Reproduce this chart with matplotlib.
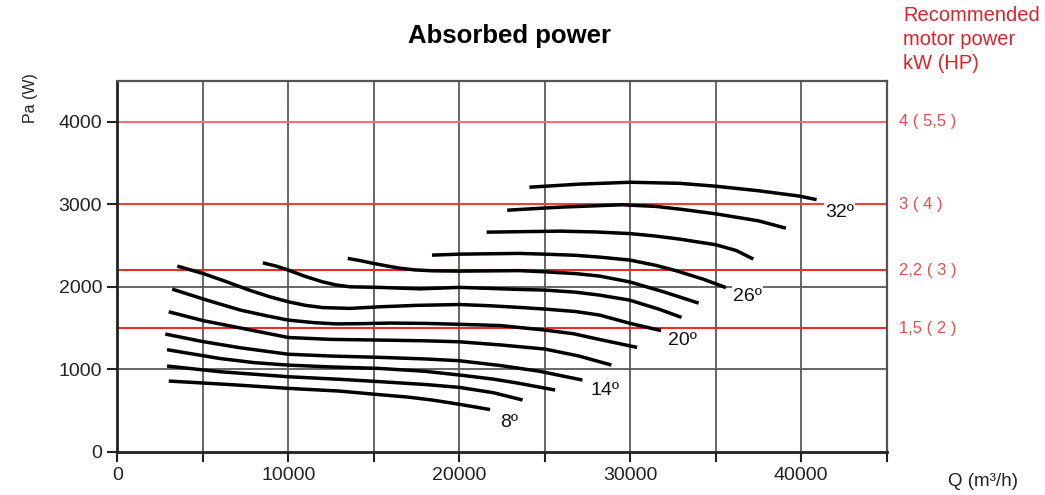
import matplotlib
matplotlib.use("Agg")
import matplotlib.pyplot as plt

plt.rcParams['font.family'] = ['Liberation Sans', 'DejaVu Sans']

# ---- data ----
angles = ["8º", "10º", "12º", "14º", "16º", "18º", "20º", "22º", "24º", "26º", "28º", "30º", "32º"]

q_8 = [3000, 6500, 10000, 13000, 15300, 17000, 18400, 20000, 21800]
p_8 = [857, 815, 768, 735, 692, 662, 627, 575, 511]

q_10 = [2900, 6000, 10000, 13000, 15300, 18000, 20000, 22000, 23700]
p_10 = [1039, 970, 909, 878, 850, 815, 780, 715, 627]

q_12 = [2900, 6000, 8000, 10000, 12500, 15300, 18000, 20000, 22000, 23500, 25600]
p_12 = [1237, 1130, 1080, 1050, 1028, 1010, 975, 930, 880, 829, 748]

q_14 = [2800, 5000, 7200, 10000, 12500, 15200, 18000, 20000, 22400, 24700, 27200]
p_14 = [1427, 1335, 1260, 1182, 1160, 1145, 1125, 1103, 1045, 975, 869]

q_16 = [3000, 5000, 7300, 10000, 12500, 15300, 18000, 20000, 22400, 25000, 27000, 28900]
p_16 = [1697, 1590, 1496, 1385, 1362, 1354, 1345, 1333, 1295, 1245, 1160, 1051]

q_18 = [3200, 5200, 7200, 8800, 10000, 11500, 12800, 14300, 15900, 18000, 20000, 22400, 25000, 26700, 28000, 30400]
p_18 = [1972, 1840, 1717, 1645, 1596, 1565, 1550, 1553, 1560, 1556, 1545, 1530, 1475, 1430, 1370, 1265]

q_20 = [3500, 5000, 6400, 7700, 8900, 10000, 11000, 12000, 13600, 15300, 17500, 20000, 21800, 23500, 25000, 26800, 28200, 30000, 31800]
p_20 = [2251, 2162, 2060, 1960, 1880, 1818, 1775, 1748, 1738, 1757, 1775, 1785, 1770, 1750, 1730, 1700, 1657, 1556, 1469]

q_22 = [8500, 9300, 10000, 11000, 12000, 12800, 13600, 15300, 17700, 20000, 23500, 25000, 26800, 28200, 29950, 31700, 33000]
p_22 = [2291, 2250, 2202, 2125, 2060, 2022, 2000, 1993, 1975, 1993, 1968, 1960, 1935, 1899, 1839, 1727, 1629]

q_24 = [13470, 14200, 14900, 15700, 16500, 17400, 18400, 20000, 23500, 25000, 26800, 28200, 29950, 32000, 34000]
p_24 = [2344, 2318, 2287, 2255, 2226, 2205, 2194, 2190, 2196, 2182, 2160, 2130, 2060, 1936, 1802]

q_26 = [18400, 20000, 23500, 25000, 26800, 28200, 29950, 31500, 32700, 34300, 35600]
p_26 = [2384, 2396, 2405, 2396, 2382, 2360, 2325, 2260, 2194, 2090, 1990]

q_28 = [21600, 25900, 28000, 30000, 31500, 32900, 35000, 36200, 37200]
p_28 = [2663, 2675, 2665, 2645, 2615, 2578, 2510, 2440, 2336]

q_30 = [22800, 25900, 29500, 31500, 32900, 35000, 37500, 39100]
p_30 = [2929, 2966, 2995, 2975, 2942, 2885, 2800, 2711]

q_32 = [24100, 27000, 30000, 32900, 35000, 37500, 39900, 40900]
p_32 = [3208, 3245, 3268, 3255, 3220, 3165, 3100, 3057]

curves_q = [q_8, q_10, q_12, q_14, q_16, q_18, q_20, q_22, q_24, q_26, q_28, q_30, q_32]
curves_p = [p_8, p_10, p_12, p_14, p_16, p_18, p_20, p_22, p_24, p_26, p_28, p_30, p_32]

# labels placed next to selected curves
label_text = ["8º", "14º", "20º", "26º", "32º"]
label_q = [22940, 28500, 33050, 36850, 42230]
label_p = [360, 748, 1354, 1887, 2900]

# recommended motor power lines
motor_p = [1500, 2200, 3000, 4000]
motor_labels = ["1,5 ( 2 )", "2,2 ( 3 )", "3 ( 4 )", "4 ( 5,5 )"]

x_ticks = [0, 5000, 10000, 15000, 20000, 25000, 30000, 35000, 40000, 45000]
x_ticklabels = ["0", "", "10000", "", "20000", "", "30000", "", "40000", ""]
y_ticks = [0, 1000, 2000, 3000, 4000]

# ---- figure ----
fig = plt.figure(figsize=(10.45, 4.95), dpi=100)
ax = fig.add_axes([0.1124, 0.0875, 0.7361, 0.7495])
ax.set_xlim(0, 45000)
ax.set_ylim(0, 4500)

grid_col = "#5a5a5a"
for x in x_ticks[1:-1]:
    ax.axvline(x, color=grid_col, lw=1.3, zorder=1)
for y in [1000, 2000]:
    ax.axhline(y, color=grid_col, lw=1.3, zorder=1)

red_cols = {1500: "#ee2a2a", 2200: "#ee2a2a", 3000: "#f04030", 4000: "#f27070"}
for y in motor_p:
    ax.axhline(y, color=red_cols[y], lw=1.5, zorder=2)

for q, p in zip(curves_q, curves_p):
    ax.plot(q, p, color="black", lw=2.5, solid_capstyle="butt",
            solid_joinstyle="round", zorder=3)

for t, q, p in zip(label_text, label_q, label_p):
    ax.text(q, p, t, fontsize=14, color="#111111", ha="center", va="center",
            zorder=4, bbox=dict(facecolor="white", edgecolor="none", pad=1.0))

ax.set_xticks(x_ticks)
ax.set_xticklabels(x_ticklabels)
ax.set_yticks(y_ticks)
ax.tick_params(axis="both", labelsize=14, length=7, width=1.5, colors="#222222",
               direction="out", pad=4)

for side in ["left", "bottom"]:
    ax.spines[side].set_linewidth(2.0)
    ax.spines[side].set_color("#222222")
for side in ["top", "right"]:
    ax.spines[side].set_linewidth(1.6)
    ax.spines[side].set_color("#555555")

# right side motor labels
for y, t in zip(motor_p, motor_labels):
    ax.text(1.016, y, t, transform=ax.get_yaxis_transform(), fontsize=12,
            color="#ee4a4a", ha="left", va="center")

fig.text(903 / 1045, 1 - 6 / 495, "Recommended\nmotor power\nkW (HP)",
         fontsize=14.5, color="#d9232a", ha="left", va="top", linespacing=1.32)

fig.text(510 / 1045, 1 - 36 / 495, "Absorbed power", fontsize=18.5,
         fontweight="bold", color="black", ha="center", va="center")

fig.text(31 / 1045, 1 - 98 / 495, "Pa (W)", fontsize=11.5, rotation=90,
         color="#222222", ha="center", va="center")
fig.text(983 / 1045, 1 - 482 / 495, "Q (m³/h)", fontsize=13.5,
         color="#222222", ha="center", va="center")

fig.savefig("out.png", dpi=100)
